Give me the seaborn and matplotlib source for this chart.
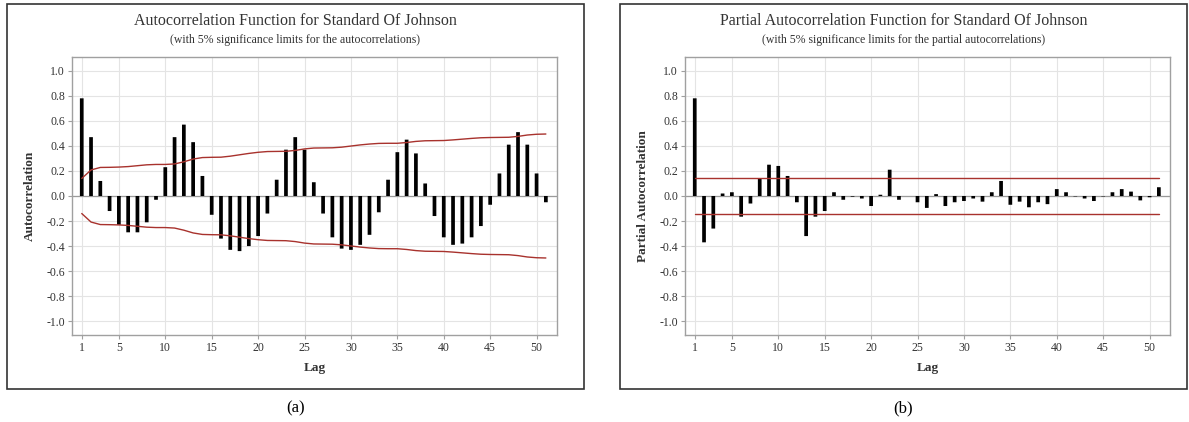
import numpy as np
import pandas as pd
import matplotlib
matplotlib.use("Agg")
import matplotlib.pyplot as plt
import seaborn as sns
from matplotlib.patches import Rectangle

# ---- data ----
lags = list(range(1, 52))

acf = [0.78, 0.47, 0.12, -0.12, -0.23, -0.29, -0.29, -0.21, -0.03, 0.23,
       0.47, 0.57, 0.43, 0.16, -0.15, -0.34, -0.43, -0.44, -0.40, -0.32,
       -0.14, 0.13, 0.37, 0.47, 0.37, 0.11, -0.14, -0.33, -0.42, -0.43,
       -0.39, -0.31, -0.13, 0.13, 0.35, 0.45, 0.34, 0.10, -0.16, -0.33,
       -0.39, -0.38, -0.33, -0.24, -0.07, 0.18, 0.41, 0.51, 0.41, 0.18,
       -0.05]

acf_limit = [0.140, 0.208, 0.228, 0.229, 0.231, 0.235, 0.242, 0.249, 0.252, 0.252,
             0.256, 0.273, 0.295, 0.307, 0.309, 0.310, 0.318, 0.329, 0.340, 0.349,
             0.355, 0.356, 0.357, 0.364, 0.376, 0.383, 0.384, 0.385, 0.390, 0.399,
             0.408, 0.415, 0.420, 0.421, 0.421, 0.427, 0.436, 0.441, 0.442, 0.443,
             0.448, 0.454, 0.460, 0.465, 0.467, 0.468, 0.469, 0.476, 0.487, 0.493,
             0.495]

pacf = [0.78, -0.37, -0.26, 0.02, 0.03, -0.165, -0.06, 0.14, 0.25, 0.24,
        0.16, -0.05, -0.32, -0.165, -0.12, 0.03, -0.03, -0.005, -0.02, -0.08,
        0.01, 0.21, -0.03, 0.0, -0.05, -0.095, 0.015, -0.08, -0.05, -0.04,
        -0.02, -0.045, 0.03, 0.12, -0.07, -0.045, -0.09, -0.05, -0.065, 0.055,
        0.03, -0.003, -0.02, -0.04, -0.003, 0.03, 0.055, 0.035, -0.035, -0.01,
        0.07]

pacf_limit = 0.14

x_ticks = [1, 5, 10, 15, 20, 25, 30, 35, 40, 45, 50]
y_ticks = [-1.0, -0.8, -0.6, -0.4, -0.2, 0.0, 0.2, 0.4, 0.6, 0.8, 1.0]

titles = ["Autocorrelation Function for Standard Of Johnson",
          "Partial Autocorrelation Function for Standard Of Johnson"]
subtitles = ["(with 5% significance limits for the autocorrelations)",
             "(with 5% significance limits for the partial autocorrelations)"]
ylabels = ["Autocorrelation", "Partial Autocorrelation"]
panel_tags = ["(a)", "(b)"]

# ---- style ----
sns.set_theme(style="white")
plt.rcParams["font.family"] = ["Liberation Serif", "DejaVu Serif"]
plt.rcParams["axes.unicode_minus"] = False

W, H = 1189, 422
fig = plt.figure(figsize=(W / 100, H / 100), dpi=100)

LIMIT_RED = "#a8322d"
GRID = "#e4e4e4"
SPINE = "#a0a0a0"


def fx(px):
    return px / W


def fy(py):
    return 1 - py / H


def draw_panel(ax, values, upper, lower):
    df = pd.DataFrame({"lag": lags, "value": values})
    ax.axhline(0, color="#9a9a9a", lw=0.9, zorder=1)
    sns.barplot(data=df, x="lag", y="value", native_scale=True, color="black",
                width=0.4, saturation=1, linewidth=0, ax=ax, zorder=3)
    for p in ax.patches:
        p.set_snap(False)
    lim = pd.DataFrame({"lag": lags, "upper": upper, "lower": lower})
    sns.lineplot(data=lim, x="lag", y="upper", color=LIMIT_RED, lw=1.0, ax=ax, zorder=4)
    sns.lineplot(data=lim, x="lag", y="lower", color=LIMIT_RED, lw=1.0, ax=ax, zorder=4)

    ax.set_xlim(-0.05, 52.2)
    ax.set_ylim(-1.11, 1.11)
    ax.set_xticks(x_ticks)
    ax.set_yticks(y_ticks)
    ax.set_yticklabels([f"{v:.1f}" for v in y_ticks])
    ax.grid(True, color=GRID, lw=0.8, zorder=0)
    ax.set_axisbelow(True)
    for s in ax.spines.values():
        s.set_color(SPINE)
        s.set_linewidth(1.0)
    ax.tick_params(axis="both", which="major", length=3, width=0.8, color=SPINE,
                   labelsize=8.5, labelcolor="#333333", pad=2, direction="out",
                   bottom=True, left=True)
    ax.set_xlabel("")
    ax.set_ylabel("")


# frames around each panel
frames = [(7, 4, 584, 389), (620, 4, 1187, 389)]
axes_px = [(72, 57, 557, 335), (685, 57, 1170, 335)]

for i in range(2):
    x0, y0, x1, y1 = frames[i]
    fig.patches.append(Rectangle((fx(x0), fy(y1)), fx(x1 - x0), (y1 - y0) / H,
                                 transform=fig.transFigure, fill=False,
                                 edgecolor="#333333", lw=1.2))
    ax_l, ax_t, ax_r, ax_b = axes_px[i]
    ax = fig.add_axes([fx(ax_l), fy(ax_b), fx(ax_r - ax_l), (ax_b - ax_t) / H])

    if i == 0:
        draw_panel(ax, acf, acf_limit, [-v for v in acf_limit])
    else:
        draw_panel(ax, pacf, [pacf_limit] * len(lags), [-pacf_limit] * len(lags))

    cx = fx((x0 + x1) / 2)
    fig.text(cx, fy(21), titles[i], ha="center", va="center", fontsize=11.5, color="#333333")
    fig.text(cx, fy(40), subtitles[i], ha="center", va="center", fontsize=8.5, color="#333333")
    fig.text(fx(ax_l - 42), fy((ax_t + ax_b) / 2), ylabels[i], rotation=90,
             ha="center", va="center", fontsize=9.5, fontweight="bold", color="#333333")
    fig.text(fx((ax_l + ax_r) / 2), fy(368), "Lag", ha="center", va="center",
             fontsize=9.5, fontweight="bold", color="#333333")
    fig.text(cx, fy(408), panel_tags[i], ha="center", va="center", fontsize=12, color="black")

fig.savefig("out.png", dpi=100)
